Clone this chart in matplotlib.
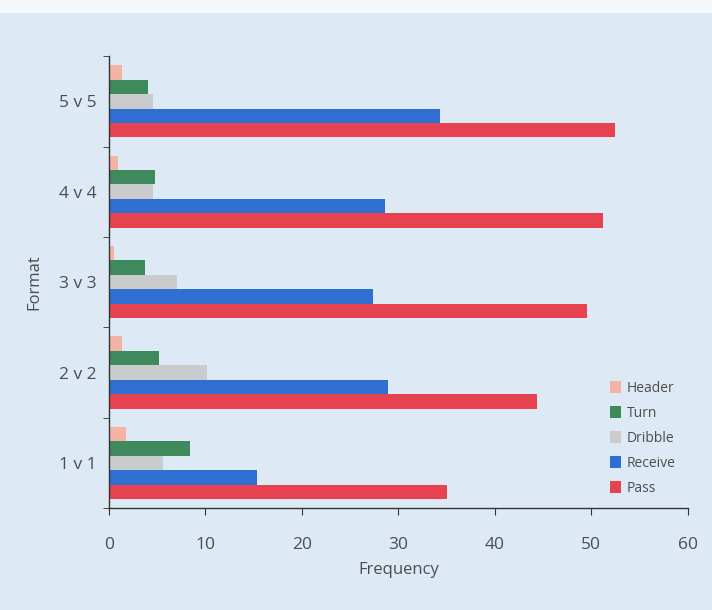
import matplotlib
matplotlib.use("Agg")
import matplotlib.pyplot as plt
from matplotlib.patches import Rectangle
import numpy as np

# Match formats (bottom to top) and action counts per format
formats = ["1 v 1", "2 v 2", "3 v 3", "4 v 4", "5 v 5"]
actions = ["Header", "Turn", "Dribble", "Receive", "Pass"]

header = [1.8, 1.4, 0.5, 0.9, 1.4]
turn = [8.4, 5.2, 3.7, 4.8, 4.1]
dribble = [5.6, 10.2, 7.1, 4.6, 4.6]
receive = [15.3, 28.9, 27.4, 28.6, 34.3]
pass_ = [35.0, 44.4, 49.6, 51.2, 52.5]

x_ticks = [0, 10, 20, 30, 40, 50, 60]

series = [header, turn, dribble, receive, pass_]
colors = ["#f5b3a6", "#3f8a5c", "#c9cbcd", "#2f6fd2", "#e6424f"]

bg = "#dde9f5"
text_col = "#4d4d4d"

plt.rcParams["font.family"] = ["Open Sans", "DejaVu Sans"]

fig = plt.figure(figsize=(7.12, 6.10), dpi=100, facecolor=bg)
# pale strip along the top edge
fig.patches.append(Rectangle((0, 0.978), 1, 0.022, transform=fig.transFigure,
                             facecolor="#f4f8fc", edgecolor="none", zorder=0))

ax = fig.add_axes([0.153, 0.167, 0.813, 0.741])
ax.set_facecolor(bg)

bar_h = 0.16
offsets = [0.32, 0.16, 0.0, -0.16, -0.32]
y = np.arange(len(formats))
for vals, off, col, name in zip(series, offsets, colors, actions):
    ax.barh(y + off, vals, height=bar_h, color=col, label=name, linewidth=0)

ax.set_xlim(0, 60)
ax.set_ylim(-0.5, len(formats) - 0.5)
ax.set_xticks(x_ticks)
ax.set_yticks(y)
ax.set_yticklabels(formats)
ax.set_yticks(np.arange(-0.5, len(formats), 1.0), minor=True)
ax.tick_params(axis="y", which="major", length=0, pad=9, labelsize=12.5, labelcolor=text_col)
ax.tick_params(axis="y", which="minor", length=4, color="#333333", direction="out")
ax.tick_params(axis="x", length=5, color="#333333", labelsize=12.5, labelcolor=text_col, pad=16)

for s in ["top", "right"]:
    ax.spines[s].set_visible(False)
for s in ["left", "bottom"]:
    ax.spines[s].set_color("#333333")
    ax.spines[s].set_linewidth(1.0)

ax.set_xlabel("Frequency", fontsize=12, color=text_col, labelpad=6)
ax.set_ylabel("Format", fontsize=12, color=text_col, labelpad=12)

leg = ax.legend(loc="lower right", frameon=False, fontsize=10, handlelength=0.75,
                handleheight=1.0, handletextpad=0.4, labelspacing=0.72,
                bbox_to_anchor=(1.0, 0.0))
for t in leg.get_texts():
    t.set_color(text_col)

fig.savefig("out.png", dpi=100, facecolor=bg)
